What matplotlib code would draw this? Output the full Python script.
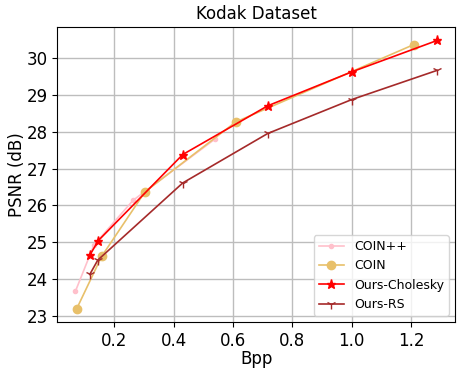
import matplotlib
matplotlib.use("Agg")
import matplotlib.pyplot as plt

# rate-distortion points on Kodak
coinpp_bpp = [0.07, 0.132, 0.264, 0.538]
coinpp_psnr = [23.68, 24.93, 26.14, 27.79]

coin_bpp = [0.074, 0.158, 0.304, 0.609, 1.209]
coin_psnr = [23.20, 24.62, 26.37, 28.26, 30.36]

chol_bpp = [0.118, 0.147, 0.431, 0.717, 1.0, 1.287]
chol_psnr = [24.65, 25.05, 27.38, 28.70, 29.62, 30.47]

rs_bpp = [0.118, 0.145, 0.431, 0.717, 1.0, 1.287]
rs_psnr = [24.13, 24.52, 26.61, 27.95, 28.87, 29.66]

fig = plt.figure(figsize=(4.63, 3.76), dpi=100)
ax = fig.add_subplot(111)
fig.subplots_adjust(left=0.124, right=0.983, top=0.928, bottom=0.143)

ax.plot(coinpp_bpp, coinpp_psnr, color="pink", marker="o", markersize=3, lw=1.2, label="COIN++")
ax.plot(coin_bpp, coin_psnr, color="#E8C06A", marker="o", markersize=6, lw=1.2, label="COIN")
ax.plot(chol_bpp, chol_psnr, color="red", marker="*", markersize=6.5, lw=1.2, label="Ours-Cholesky")
ax.plot(rs_bpp, rs_psnr, color="brown", marker="1", markersize=7, lw=1.2, label="Ours-RS")

ax.grid(True, color="#bdbdbd", lw=1)
ax.set_title("Kodak Dataset", fontsize=12)
ax.set_xlabel("Bpp", fontsize=12, labelpad=0)
ax.set_ylabel("PSNR (dB)", fontsize=12, labelpad=0)
ax.tick_params(labelsize=12)
ax.legend(loc="lower right", fontsize=9)

plt.savefig("out.png", dpi=100)
